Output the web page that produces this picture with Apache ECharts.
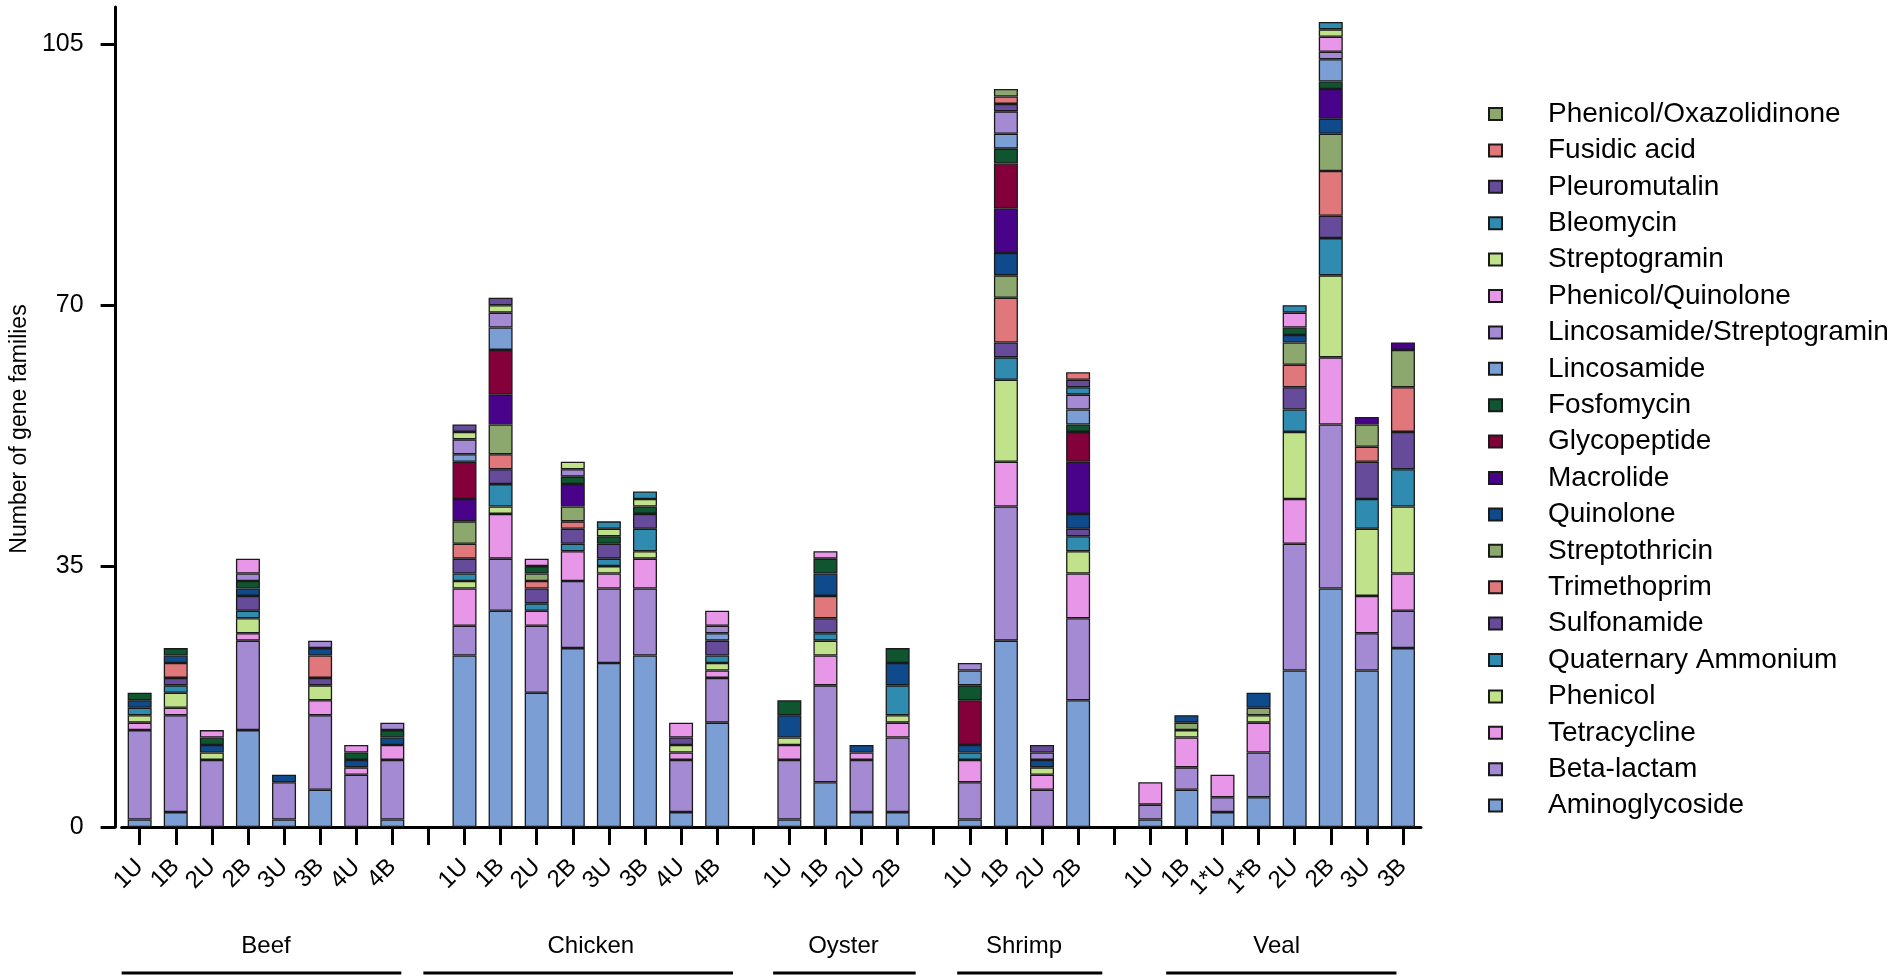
<!DOCTYPE html>
<html>
<head>
<meta charset="utf-8">
<title>Gene families per sample</title>
<script src="https://cdn.jsdelivr.net/npm/echarts@6/dist/echarts.min.js"></script>
<style>
  html, body { margin: 0; padding: 0; background: #fff; }
  #chart { width: 1901px; height: 980px; }
</style>
</head>
<body>
<div id="chart"></div>
<script>
const FONT = 'Liberation Sans, Arial, Helvetica, sans-serif'

const groups = ['Beef', 'Chicken', 'Oyster', 'Shrimp', 'Veal']
const groupSamples = [
  ['1U', '1B', '2U', '2B', '3U', '3B', '4U', '4B'],
  ['1U', '1B', '2U', '2B', '3U', '3B', '4U', '4B'],
  ['1U', '1B', '2U', '2B'],
  ['1U', '1B', '2U', '2B'],
  ['1U', '1B', '1*U', '1*B', '2U', '2B', '3U', '3B']
]
const yTicks = [0, 35, 70, 105]

// one value per bar, Beef 1U .. Veal 3B (32 bars), bottom of the stack first
const aminoglycoside = [1, 2, 0, 13, 1, 5, 0, 1, 23, 29, 18, 24, 22, 23, 2, 14, 1, 6, 2, 2, 1, 25, 0, 17, 1, 5, 2, 4, 21, 32, 21, 24]
const betaLactam = [12, 13, 9, 12, 5, 10, 7, 8, 4, 7, 9, 9, 10, 9, 7, 6, 8, 13, 7, 10, 5, 18, 5, 11, 2, 3, 2, 6, 17, 22, 5, 5]
const tetracycline = [1, 1, 0, 1, 0, 2, 1, 2, 5, 6, 2, 4, 2, 4, 1, 1, 2, 4, 1, 2, 3, 6, 2, 6, 3, 4, 3, 4, 6, 9, 5, 5]
const phenicol = [1, 2, 1, 2, 0, 2, 0, 0, 1, 1, 0, 0, 1, 1, 1, 1, 1, 2, 0, 1, 0, 11, 1, 3, 0, 1, 0, 1, 9, 11, 9, 9]
const quaternaryAmmonium = [1, 1, 0, 1, 0, 0, 0, 0, 1, 3, 1, 1, 1, 3, 0, 1, 0, 1, 0, 4, 1, 3, 0, 2, 0, 0, 0, 0, 3, 5, 4, 5]
const sulfonamide = [0, 1, 0, 2, 0, 1, 0, 0, 2, 2, 2, 2, 2, 2, 1, 2, 0, 2, 0, 0, 0, 2, 0, 1, 0, 0, 0, 0, 3, 3, 5, 5]
const trimethoprim = [0, 2, 0, 0, 0, 3, 0, 0, 2, 2, 1, 1, 0, 0, 0, 0, 0, 3, 0, 0, 0, 6, 0, 0, 0, 0, 0, 0, 3, 6, 2, 6]
const streptothricin = [0, 0, 0, 0, 0, 0, 0, 0, 3, 4, 1, 2, 0, 0, 0, 0, 0, 0, 0, 0, 0, 3, 0, 0, 0, 1, 0, 1, 3, 5, 3, 5]
const quinolone = [1, 1, 1, 1, 1, 1, 1, 1, 0, 0, 0, 0, 0, 0, 0, 0, 3, 3, 1, 3, 1, 3, 1, 2, 0, 1, 0, 2, 1, 2, 0, 0]
const macrolide = [0, 0, 0, 0, 0, 0, 0, 0, 3, 4, 0, 3, 0, 0, 0, 0, 0, 0, 0, 0, 0, 6, 0, 7, 0, 0, 0, 0, 0, 4, 1, 1]
const glycopeptide = [0, 0, 0, 0, 0, 0, 0, 0, 5, 6, 0, 0, 0, 0, 0, 0, 0, 0, 0, 0, 6, 6, 0, 4, 0, 0, 0, 0, 0, 0, 0, 0]
const fosfomycin = [1, 1, 1, 1, 0, 0, 1, 1, 0, 0, 1, 1, 1, 1, 0, 0, 2, 2, 0, 2, 2, 2, 0, 1, 0, 0, 0, 0, 1, 1, 0, 0]
const lincosamide = [0, 0, 0, 0, 0, 0, 0, 0, 1, 3, 0, 0, 0, 0, 0, 1, 0, 0, 0, 0, 2, 2, 0, 2, 0, 0, 0, 0, 0, 3, 0, 0]
const lincosamideStreptogramin = [0, 0, 0, 1, 0, 1, 0, 1, 2, 2, 0, 1, 0, 0, 0, 1, 0, 0, 0, 0, 1, 3, 1, 2, 0, 0, 0, 0, 0, 1, 0, 0]
const phenicolQuinolone = [0, 0, 1, 2, 0, 0, 1, 0, 0, 0, 1, 0, 0, 0, 2, 2, 0, 1, 0, 0, 0, 0, 0, 0, 0, 0, 0, 0, 2, 2, 0, 0]
const streptogramin = [0, 0, 0, 0, 0, 0, 0, 0, 1, 1, 0, 1, 1, 1, 0, 0, 0, 0, 0, 0, 0, 0, 0, 0, 0, 0, 0, 0, 0, 1, 0, 0]
const bleomycin = [0, 0, 0, 0, 0, 0, 0, 0, 0, 0, 0, 0, 1, 1, 0, 0, 0, 0, 0, 0, 0, 0, 0, 1, 0, 0, 0, 0, 1, 1, 0, 0]
const pleuromutalin = [0, 0, 0, 0, 0, 0, 0, 0, 1, 1, 0, 0, 0, 0, 0, 0, 0, 0, 0, 0, 0, 1, 1, 1, 0, 0, 0, 0, 0, 0, 0, 0]
const fusidicAcid = [0, 0, 0, 0, 0, 0, 0, 0, 0, 0, 0, 0, 0, 0, 0, 0, 0, 0, 0, 0, 0, 1, 0, 1, 0, 0, 0, 0, 0, 0, 0, 0]
const phenicolOxazolidinone = [0, 0, 0, 0, 0, 0, 0, 0, 0, 0, 0, 0, 0, 0, 0, 0, 0, 0, 0, 0, 0, 1, 0, 0, 0, 0, 0, 0, 0, 0, 0, 0]

const seriesNames = [
  'Aminoglycoside', 'Beta-lactam', 'Tetracycline', 'Phenicol', 'Quaternary Ammonium',
  'Sulfonamide', 'Trimethoprim', 'Streptothricin', 'Quinolone', 'Macrolide',
  'Glycopeptide', 'Fosfomycin', 'Lincosamide', 'Lincosamide/Streptogramin', 'Phenicol/Quinolone',
  'Streptogramin', 'Bleomycin', 'Pleuromutalin', 'Fusidic acid', 'Phenicol/Oxazolidinone'
]
const seriesValues = [
  aminoglycoside, betaLactam, tetracycline, phenicol, quaternaryAmmonium,
  sulfonamide, trimethoprim, streptothricin, quinolone, macrolide,
  glycopeptide, fosfomycin, lincosamide, lincosamideStreptogramin, phenicolQuinolone,
  streptogramin, bleomycin, pleuromutalin, fusidicAcid, phenicolOxazolidinone
]
const seriesColors = [
  '#7b9fd4', '#a48ad3', '#e896e8', '#bfe28a', '#2f8cb0',
  '#664b9b', '#e0777a', '#8ca86e', '#0f4a8c', '#49038a',
  '#83003a', '#0e5530', '#7b9fd4', '#a48ad3', '#e896e8',
  '#bfe28a', '#2f8cb0', '#664b9b', '#e0777a', '#8ca86e'
]

// underline ends per group, in slot units relative to the group's first / last bar
const underlineInset = [[0, 0.25], [-0.64, 0.06], [0.05, 0], [0.15, -0.17], [0.94, 0.68]]

// one empty slot between groups
const categories = []
const barSlots = []
const groupRanges = []
groups.forEach((g, gi) => {
  if (gi > 0) categories.push('')
  const first = categories.length
  groupSamples[gi].forEach(s => {
    barSlots.push(categories.length)
    categories.push(s)
  })
  groupRanges.push([first, categories.length - 1])
})

const toSlots = values => {
  const out = categories.map(() => '-')
  values.forEach((v, i) => { out[barSlots[i]] = v > 0 ? v : '-' })
  return out
}

const series = seriesNames.map((name, i) => ({
  name: name,
  type: 'bar',
  stack: 'genes',
  barWidth: 24,
  itemStyle: { color: seriesColors[i], borderColor: '#1a1a1a', borderWidth: 1.3 },
  emphasis: { disabled: true },
  data: toSlots(seriesValues[i])
}))

const chart = echarts.init(document.getElementById('chart'), null, { renderer: 'canvas' })

chart.setOption({
  animation: false,
  backgroundColor: '#fff',
  textStyle: { fontFamily: FONT, color: '#000' },
  grid: { left: 118, top: 7, width: 1303, height: 820 },
  legend: {
    orient: 'vertical',
    left: 1483,
    top: 94,
    itemWidth: 13,
    itemHeight: 12,
    itemGap: 6.4,
    icon: 'rect',
    selectedMode: false,
    data: seriesNames.slice().reverse(),
    textStyle: { fontFamily: FONT, fontSize: 28, lineHeight: 30, color: '#000', padding: [0, 0, 0, 41] }
  },
  xAxis: {
    type: 'category',
    data: categories,
    axisLine: { show: true, lineStyle: { color: '#000', width: 3 } },
    axisTick: { show: true, alignWithLabel: true, interval: 0, length: 18, lineStyle: { color: '#000', width: 3 } },
    axisLabel: { interval: 0, rotate: 45, margin: 36, fontSize: 24, color: '#000', fontFamily: FONT },
    splitLine: { show: false }
  },
  yAxis: {
    type: 'value',
    min: 0,
    max: 110,
    offset: 6,
    name: 'Number of gene families',
    nameLocation: 'middle',
    nameGap: 76,
    nameRotate: 90,
    nameTextStyle: { fontFamily: FONT, fontSize: 23, color: '#000', padding: [0, 24, 0, 0] },
    axisLine: { show: true, lineStyle: { color: '#000', width: 3 } },
    axisTick: { show: true, customValues: yTicks, length: 15, lineStyle: { color: '#000', width: 3 } },
    axisLabel: { customValues: yTicks, margin: 32, fontSize: 25, color: '#000', fontFamily: FONT },
    splitLine: { show: false }
  },
  series: series
})

// group names and underlines under the sample labels
const x0 = chart.convertToPixel({ xAxisIndex: 0 }, 0)
const x1 = chart.convertToPixel({ xAxisIndex: 0 }, 1)
const slotX = s => x0 + (x1 - x0) * s
const graphic = []
groups.forEach((g, gi) => {
  const [a, b] = groupRanges[gi]
  graphic.push({
    type: 'text',
    x: slotX((a + b) / 2),
    y: 946,
    style: { text: g, font: '24px ' + FONT, fill: '#000', align: 'center', verticalAlign: 'middle' }
  })
  graphic.push({
    type: 'line',
    shape: { x1: slotX(a - 0.5 + underlineInset[gi][0]), y1: 973, x2: slotX(b + 0.5 - underlineInset[gi][1]), y2: 973 },
    style: { stroke: '#000', lineWidth: 3 }
  })
})
chart.setOption({ graphic: graphic })
</script>
</body>
</html>
